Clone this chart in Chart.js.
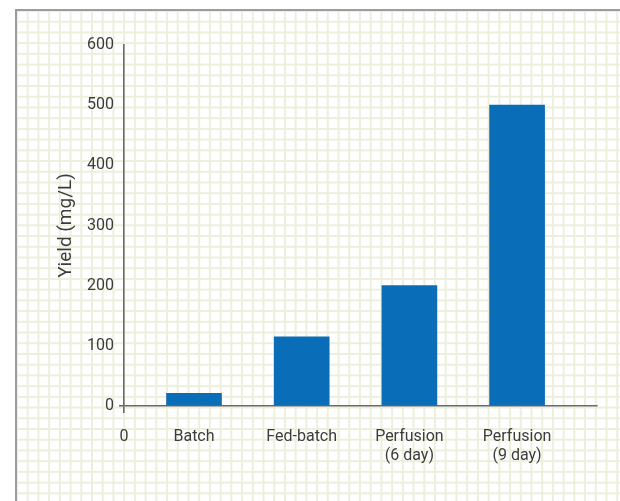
<!DOCTYPE html>
<html>
<head>
<meta charset="utf-8">
<script src="https://cdn.jsdelivr.net/npm/chart.js@4/dist/chart.umd.min.js"></script>
<style>
  html, body { margin: 0; padding: 0; background: #ffffff; }
  #wrap { position: relative; width: 620px; height: 501px; overflow: hidden; background: #ffffff; }
  /* graph-paper backdrop with a grey frame on its top and left edges */
  #paper {
    position: absolute; left: 15px; top: 9px; right: -20px; bottom: -20px;
    border-left: 2px solid #9c9c9c; border-top: 2px solid #9c9c9c;
    background-color: #ffffff;
    background-image:
      linear-gradient(to right, #ecefdc 2px, transparent 2px),
      linear-gradient(to bottom, #ecefdc 2px, transparent 2px);
    background-size: 10.73px 10.73px;
    background-position: -1px -1px;
  }
  #chart { position: absolute; left: 0; top: 0; }
</style>
</head>
<body>
<div id="wrap">
  <div id="paper"></div>
  <canvas id="chart" width="620" height="501"></canvas>
</div>
<script>
// Culture modes and their product yield
const categories = ['Batch', 'Fed-batch', ['Perfusion', '(6 day)'], ['Perfusion', '(9 day)']];
const yields = [21, 115, 200, 500];
const yTicks = [0, 100, 200, 300, 400, 500, 600];

const textColor = '#3c3c3c';
const axisColor = '#6a6a6a';
const fontFamily = 'Roboto, "Liberation Sans", sans-serif';

// bars sit at x = 1..n on a numeric axis whose origin is labelled 0
const points = categories.map((c, i) => ({ x: i + 1, y: yields[i] }));
const X_MIN = 0.35, X_MAX = 4.742;

new Chart(document.getElementById('chart'), {
  type: 'bar',
  data: {
    datasets: [{
      data: points,
      backgroundColor: '#0a6db7',
      borderWidth: 0,
      barThickness: 55
    }]
  },
  options: {
    responsive: false,
    animation: false,
    layout: { padding: { left: 0, top: 45, right: 23, bottom: 0 } },
    plugins: { legend: { display: false }, tooltip: { enabled: false } },
    scales: {
      x: {
        type: 'linear',
        min: X_MIN,
        max: X_MAX,
        offset: false,
        afterBuildTicks: s => {
          s.ticks = [X_MIN].concat(categories.map((c, i) => i + 1)).map(v => ({ value: v }));
        },
        afterFit: s => { s.height = 95; },
        border: { display: true, color: axisColor, width: 1.6 },
        grid: {
          offset: false,
          drawOnChartArea: false,
          drawTicks: true,
          tickLength: 7,
          lineWidth: 1.6,
          color: c => (c.tick && c.tick.value === X_MIN ? axisColor : 'rgba(0,0,0,0)')
        },
        ticks: {
          autoSkip: false,
          maxRotation: 0,
          padding: 14,
          color: textColor,
          font: { family: fontFamily, size: 16 },
          callback: v => (v === X_MIN ? '0' : categories[Math.round(v) - 1])
        }
      },
      y: {
        min: 0,
        max: 600,
        afterBuildTicks: s => { s.ticks = yTicks.map(v => ({ value: v })); },
        afterFit: s => { s.width = 124; },
        border: { display: true, color: axisColor, width: 1.6 },
        grid: {
          drawOnChartArea: false,
          drawTicks: true,
          tickLength: 5,
          lineWidth: 1.6,
          color: c => (c.tick && c.tick.value === 0 ? axisColor : 'rgba(0,0,0,0)')
        },
        ticks: {
          padding: 5,
          color: textColor,
          font: { family: fontFamily, size: 16 }
        },
        title: {
          display: true,
          text: 'Yield (mg/L)',
          color: textColor,
          font: { family: fontFamily, size: 19 },
          padding: { top: 55, bottom: 0 }
        }
      }
    }
  }
});
</script>
</body>
</html>
